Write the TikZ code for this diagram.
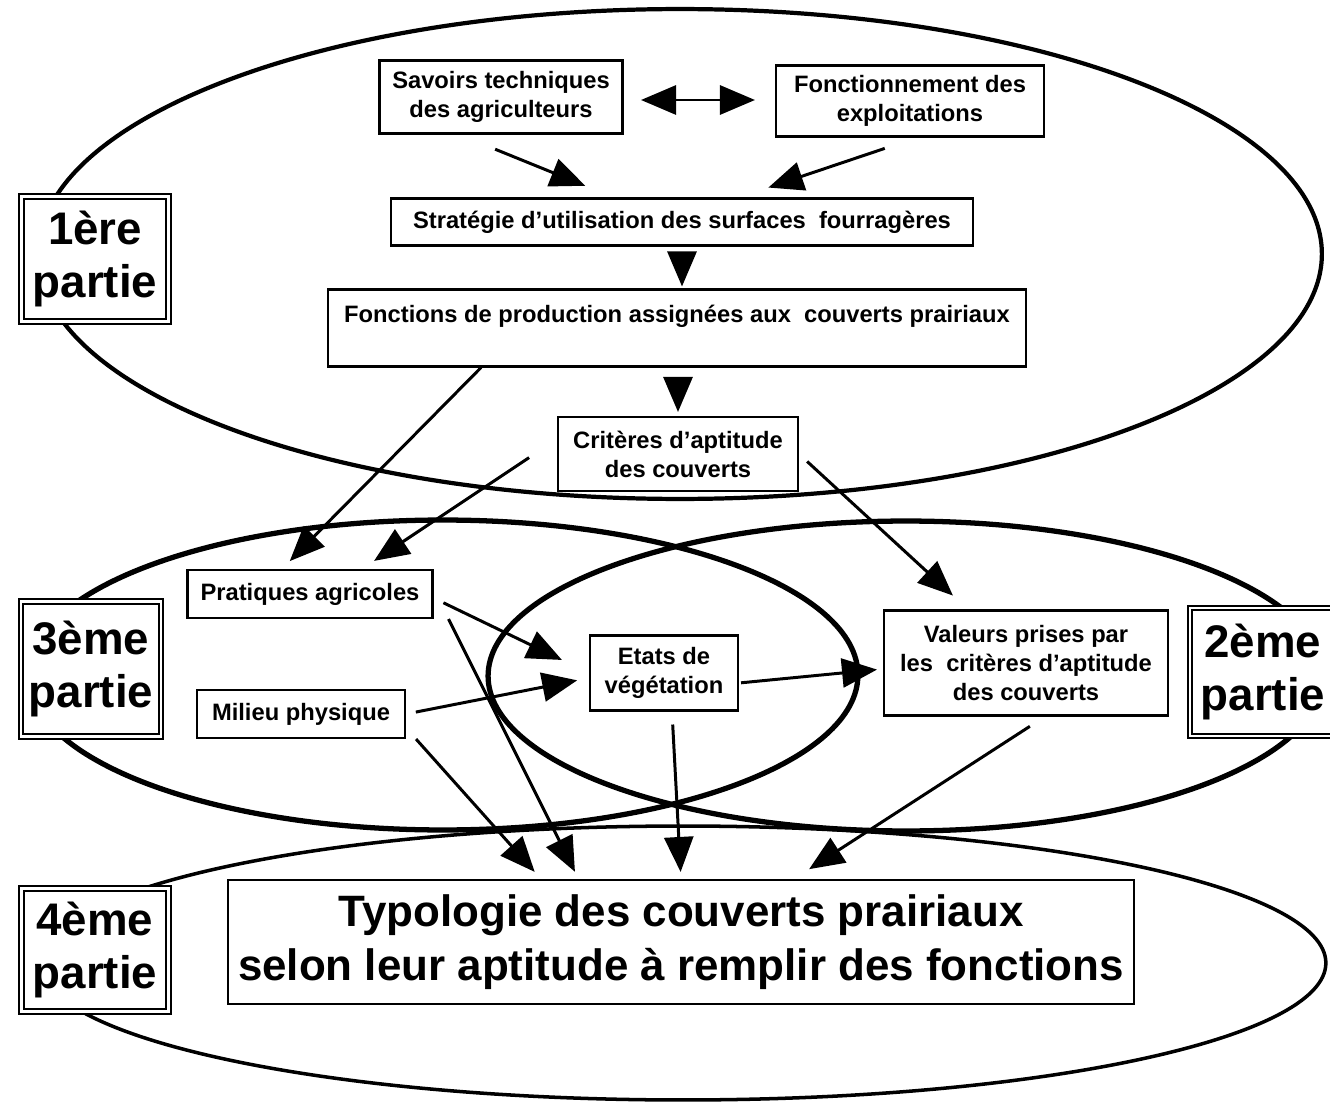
\documentclass[tikz,border=0pt]{standalone}
\usepackage{fontspec}
\setmainfont{Liberation Sans}
\usetikzlibrary{arrows.meta}

\begin{document}
\begin{tikzpicture}[x=0.02cm, y=-0.02cm,
  >={Triangle[length=0.7cm, width=0.58cm]},
  boite/.style={draw, line width=1.2pt, fill=white, align=center, inner sep=0pt,
    font=\fontsize{13.5}{16.5}\selectfont\bfseries},
  partie/.style={draw, double, double distance=1.6pt, line width=1.1pt, fill=white,
    align=center, inner sep=0pt, font=\fontsize{26}{30}\selectfont\bfseries},
  fleche/.style={line width=1.7pt, ->},
  cadre/.style={line width=2.4pt}]
\useasboundingbox (0,0) rectangle (1330,1105);

% les quatre parties
\draw[cadre] (680,254) ellipse [x radius=12.84cm, y radius=4.9cm];
\draw[cadre, line width=3pt] (443,675) ellipse [x radius=8.3cm, y radius=3.1cm];
\draw[cadre, line width=3pt] (906,676) ellipse [x radius=8.36cm, y radius=3.1cm];
\draw[cadre, line width=2pt] (683,963) ellipse [x radius=12.86cm, y radius=2.74cm];

\node[boite, minimum width=4.86cm, minimum height=1.46cm] (savoirs) at (501,97) {Savoirs techniques\\des agriculteurs};
\node[boite, minimum width=5.36cm, minimum height=1.42cm] (exploit) at (910,101) {Fonctionnement des\\exploitations};
\node[boite, minimum width=11.64cm, minimum height=0.94cm] (strategie) at (682,222) {Stratégie d'utilisation des surfaces~ fourragères};
\node[boite, minimum width=13.96cm, minimum height=1.54cm] (fonctions) at (677,328) {Fonctions de production assignées aux~ couverts prairiaux\\~};
\node[boite, minimum width=4.8cm, minimum height=1.48cm] (criteres) at (678,454) {Critères d'aptitude\\des couverts};
\node[boite, minimum width=4.9cm, minimum height=0.96cm] (pratiques) at (310,594) {Pratiques agricoles};
\node[boite, minimum width=4.16cm, minimum height=0.96cm] (milieu) at (301,714) {Milieu physique};
\node[boite, minimum width=2.96cm, minimum height=1.5cm] (etats) at (664,673) {Etats de\\végétation};
\node[boite, minimum width=5.68cm, minimum height=2.1cm] (valeurs) at (1026,663) {Valeurs prises par\\les~ critères d’aptitude\\des couverts};
\node[boite, minimum width=18.14cm, minimum height=2.48cm, font=\fontsize{25}{31}\selectfont\bfseries] (typologie) at (681,942) {Typologie des couverts prairiaux\\selon leur aptitude à remplir des fonctions};

\node[partie, minimum width=2.95cm, minimum height=2.5cm] (partie1) at (95,259) {1ère\\partie};
\node[partie, minimum width=2.8cm, minimum height=2.7cm] (partie3) at (91,669) {3ème\\partie};
\node[partie, minimum width=2.92cm, minimum height=2.56cm] (partie2) at (1263,672) {2ème\\partie};
\node[partie, minimum width=2.94cm, minimum height=2.46cm] (partie4) at (95,950) {4ème\\partie};

% fleches
\draw[fleche, <->, shorten <=0.35cm, shorten >=0.4cm] ([yshift=-0.06cm]savoirs.east) -- ([yshift=-0.06cm]savoirs.east -| exploit.west);
\draw[fleche, shorten <=0.78cm, shorten >=0.62cm] ([xshift=-0.84cm]savoirs.south) -- ([xshift=-1.36cm]strategie.north);
\draw[fleche, shorten <=0.68cm, shorten >=0.62cm] ([xshift=0.14cm]exploit.south) -- ([xshift=1.14cm]strategie.north);
\draw[fleche, shorten <=0.2cm, shorten >=0.04cm] (strategie.south) -- (strategie.south |- fonctions.north);
\draw[fleche, shorten <=0.22cm, shorten >=0.08cm] (criteres.north |- fonctions.south) -- (criteres.north);
\draw[fleche, shorten >=0.22cm] ([xshift=-3.92cm]fonctions.south) -- ([xshift=-0.56cm]pratiques.north);
\draw[fleche, shorten <=0.67cm, shorten >=0.29cm] ([yshift=0.3cm]criteres.west) -- ([xshift=1.04cm]pratiques.north);
\draw[fleche, shorten <=0.22cm, shorten >=0.41cm] (criteres.east) -- ([xshift=-1.16cm]valeurs.north);
\draw[fleche, shorten <=0.22cm, shorten >=0.6cm] ([yshift=-0.08cm]pratiques.east) -- (etats.west);
\draw[fleche, shorten <=0.2cm, shorten >=0.24cm] (milieu.east) -- ([yshift=-0.1cm]etats.west);
\draw[fleche, shorten <=0.04cm, shorten >=0.12cm] ([yshift=-0.2cm]etats.east) -- ([yshift=-0.12cm]valeurs.west);
\draw[fleche, shorten >=0.16cm] ([xshift=0.3cm]pratiques.south east) -- ([xshift=-2.05cm]typologie.north);
\draw[fleche, shorten >=0.19cm] ([xshift=0.2cm]milieu.south east) -- ([xshift=-2.8cm]typologie.north);
\draw[fleche, shorten <=0.26cm, shorten >=0.14cm] ([xshift=0.16cm]etats.south) -- (typologie.north);
\draw[fleche, shorten <=0.36cm, shorten >=0.36cm] ([xshift=0.38cm]valeurs.south) -- ([xshift=2.26cm]typologie.north);
\end{tikzpicture}
\end{document}
